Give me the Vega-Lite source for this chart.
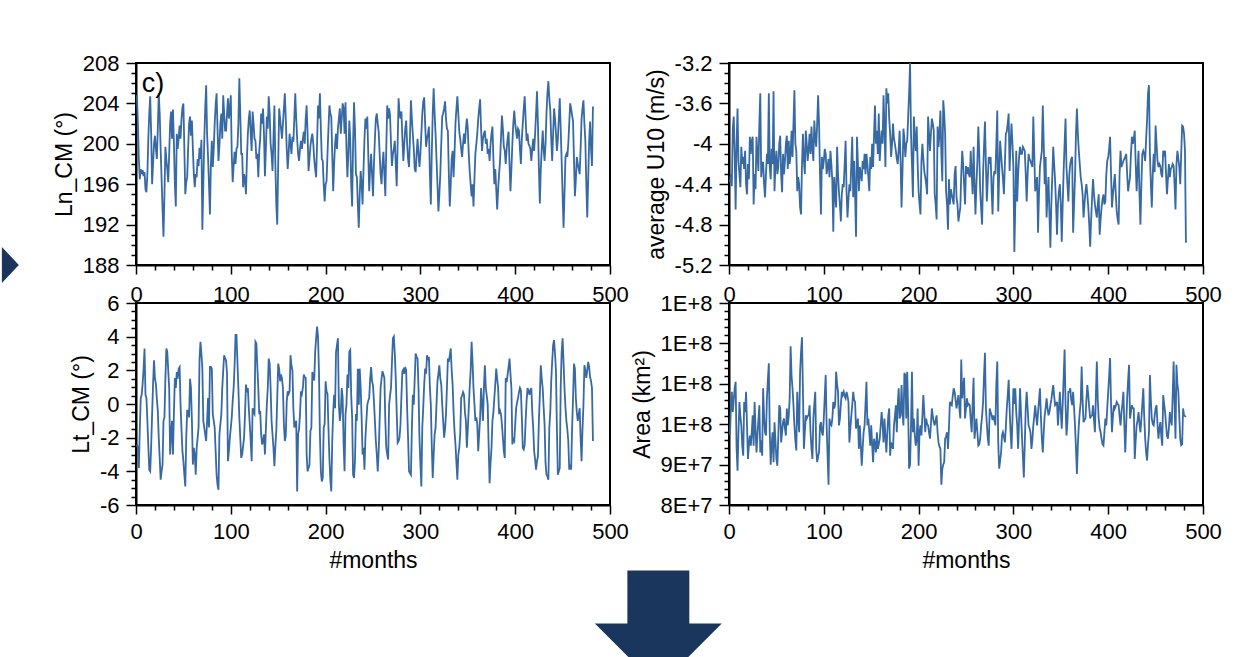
{
"$schema":"https://vega.github.io/schema/vega-lite/v6.json",
"autosize":{"type":"pad"},
"padding":{"left":0,"top":51,"right":0,"bottom":0},
"background":"white",
"config":{"font":"Liberation Sans","view":{"stroke":"black","strokeWidth":2},
"axis":{"grid":false,"domainColor":"black","domainWidth":2,"tickColor":"black","tickWidth":1.5,"labelColor":"black","titleColor":"black","labelFont":"Liberation Sans","titleFont":"Liberation Sans","labelFontSize":22,"titleFontSize":23,"titleFontWeight":"normal","labelFlush":false,"labelOverlap":false,"labelBound":false}},
"datasets":{"s":[
{"m":1,"a":204.8,"b":-4.38,"c":-2.4,"d":9.73e7},{"m":2,"a":202,"b":-4.3,"c":-2.6,"d":10.4e7},{"m":3,"a":198.5,"b":-4.42,"c":-3.8,"d":10.8e7},{"m":4,"a":196.5,"b":-3.85,"c":-1.5,"d":10.3e7},{"m":5,"a":197.5,"b":-3.73,"c":0.36,"d":10.6e7},{"m":6,"a":197,"b":-4.1,"c":0.55,"d":10.9e7},{"m":7,"a":197.4,"b":-4.65,"c":1.2,"d":11.05e7},{"m":8,"a":196.8,"b":-4.0,"c":2.1,"d":9.4e7},{"m":9,"a":197.2,"b":-3.65,"c":3.3,"d":8.85e7},{"m":10,"a":195.5,"b":-4.17,"c":0.55,"d":9.8e7},
{"m":11,"a":195.2,"b":-4.3,"c":0.36,"d":10.55e7},{"m":12,"a":197,"b":-4.43,"c":-1,"d":10.2e7},{"m":13,"a":200.5,"b":-4.03,"c":-2.5,"d":9.97e7},{"m":14,"a":203,"b":-4.2,"c":-3.9,"d":9.47e7},{"m":15,"a":204.7,"b":-4.13,"c":-4,"d":9.22e7},{"m":16,"a":201,"b":-4.25,"c":-2.5,"d":10.55e7},{"m":17,"a":196,"b":-4.07,"c":-0.6,"d":10.3e7},{"m":18,"a":198,"b":-4.4,"c":1.2,"d":10.8e7},{"m":19,"a":200,"b":-4.5,"c":2.6,"d":9.97e7},{"m":20,"a":200.8,"b":-4.2,"c":1.5,"d":9.14e7},
{"m":21,"a":199.5,"b":-4.35,"c":1.2,"d":9.5e7},{"m":22,"a":198.5,"b":-3.93,"c":0.3,"d":9.72e7},{"m":23,"a":201.5,"b":-4.1,"c":-0.4,"d":9.47e7},{"m":24,"a":205,"b":-3.97,"c":-2,"d":9.8e7},{"m":25,"a":203,"b":-3.93,"c":-3.2,"d":10.22e7},{"m":26,"a":199.5,"b":-4.6,"c":-4.5,"d":9.47e7},{"m":27,"a":196.5,"b":-4.3,"c":-4,"d":10.55e7},{"m":28,"a":193.5,"b":-4.45,"c":-3.6,"d":9.9e7},{"m":29,"a":190.8,"b":-3.93,"c":-1,"d":9.3e7},{"m":30,"a":195,"b":-4.1,"c":-0.8,"d":9.72e7},
{"m":31,"a":199.7,"b":-4.27,"c":1.5,"d":10.1e7},{"m":32,"a":198.5,"b":-3.8,"c":3.3,"d":10.47e7},{"m":33,"a":197.5,"b":-3.5,"c":3.1,"d":9.3e7},{"m":34,"a":196.2,"b":-4.33,"c":2,"d":9.6e7},{"m":35,"a":199,"b":-4.2,"c":0.95,"d":9.22e7},{"m":36,"a":202,"b":-4.18,"c":-3,"d":10.89e7},{"m":37,"a":203.2,"b":-4.4,"c":-1.8,"d":10.2e7},{"m":38,"a":200.5,"b":-4.53,"c":-1,"d":9.8e7},{"m":39,"a":203.4,"b":-4.3,"c":-3,"d":9.72e7},{"m":40,"a":200,"b":-4.1,"c":-0.5,"d":10.64e7},
{"m":41,"a":196,"b":-4.2,"c":1.55,"d":11.1e7},{"m":42,"a":193.8,"b":-3.5,"c":0.95,"d":11.51e7},{"m":43,"a":201,"b":-4.23,"c":1.9,"d":9.8e7},{"m":44,"a":199.5,"b":-4.35,"c":1.5,"d":9.0e7},{"m":45,"a":200.5,"b":-4.05,"c":2.1,"d":9.5e7},{"m":46,"a":201.8,"b":-4.2,"c":2.2,"d":9.8e7},{"m":47,"a":200.5,"b":-3.48,"c":-0.04,"d":9.06e7},{"m":48,"a":202.5,"b":-4.47,"c":-1.5,"d":10.05e7},{"m":49,"a":203.6,"b":-4.2,"c":-2.8,"d":9.6e7},{"m":50,"a":204,"b":-4.07,"c":-3.4,"d":9.14e7},
{"m":51,"a":199.5,"b":-4.3,"c":-4.2,"d":8.97e7},{"m":52,"a":195,"b":-4.23,"c":-4.9,"d":9.7e7},{"m":53,"a":196.2,"b":-4.0,"c":-2,"d":10.47e7},{"m":54,"a":196.7,"b":-3.92,"c":-0.4,"d":10.39e7},{"m":55,"a":199.5,"b":-4.3,"c":-0.4,"d":9.55e7},{"m":56,"a":202,"b":-4.48,"c":-0.8,"d":9.8e7},{"m":57,"a":202.7,"b":-4.1,"c":1.5,"d":10.05e7},{"m":58,"a":200.8,"b":-4.3,"c":0.95,"d":10.14e7},{"m":59,"a":202.3,"b":-4.17,"c":-1,"d":9.9e7},{"m":60,"a":199.5,"b":-4.0,"c":-3.6,"d":9.72e7},
{"m":61,"a":197,"b":-3.92,"c":-2.6,"d":10.39e7},{"m":62,"a":195.7,"b":-4.25,"c":-3,"d":9.97e7},{"m":63,"a":197,"b":-3.97,"c":-4.2,"d":10.2e7},{"m":64,"a":196.7,"b":-4.2,"c":-2.6,"d":10.64e7},{"m":65,"a":198.5,"b":-4.1,"c":-2,"d":11.93e7},{"m":66,"a":197.8,"b":-3.87,"c":-1.4,"d":11.2e7},{"m":67,"a":199.6,"b":-4.13,"c":2.6,"d":10.89e7},{"m":68,"a":198.5,"b":-3.8,"c":3.7,"d":10.47e7},{"m":69,"a":200.4,"b":-3.47,"c":3,"d":9.97e7},{"m":70,"a":191.5,"b":-4.0,"c":2.1,"d":9.6e7},
{"m":71,"a":196,"b":-4.07,"c":-1,"d":9.35e7},{"m":72,"a":200.3,"b":-4.47,"c":-1.4,"d":10.8e7},{"m":73,"a":203.5,"b":-4.33,"c":-1.8,"d":10.2e7},{"m":74,"a":205.8,"b":-4.4,"c":-2.2,"d":9.8e7},{"m":75,"a":201,"b":-4.63,"c":-1,"d":11.3e7},{"m":76,"a":198.7,"b":-4.7,"c":0.36,"d":11.8e7},{"m":77,"a":196,"b":-4.2,"c":-1.4,"d":12.15e7},{"m":78,"a":193,"b":-3.9,"c":2.2,"d":10.8e7},{"m":79,"a":198,"b":-4.17,"c":2.2,"d":9.39e7},{"m":80,"a":200.3,"b":-4.3,"c":2.1,"d":9.8e7},
{"m":81,"a":197.7,"b":-3.87,"c":-0.6,"d":10.22e7},{"m":82,"a":199.5,"b":-4.0,"c":-1,"d":10.14e7},{"m":83,"a":202,"b":-4.17,"c":-1.4,"d":10.2e7},{"m":84,"a":203.8,"b":-4.05,"c":-2.8,"d":10.22e7},{"m":85,"a":205,"b":-3.9,"c":-4.2,"d":10.47e7},{"m":86,"a":201.5,"b":-4.1,"c":-4.8,"d":9.8e7},{"m":87,"a":198.3,"b":-3.83,"c":-5.1,"d":9.4e7},{"m":88,"a":199.8,"b":-4.05,"c":-1.8,"d":9.14e7},{"m":89,"a":202,"b":-4.17,"c":-1.2,"d":10.14e7},{"m":90,"a":203,"b":-3.77,"c":-0.6,"d":10.5e7},
{"m":91,"a":200.5,"b":-3.95,"c":0.95,"d":10.8e7},{"m":92,"a":204.8,"b":-4.03,"c":2,"d":9.39e7},{"m":93,"a":203,"b":-3.8,"c":2.9,"d":9.06e7},{"m":94,"a":201.3,"b":-3.52,"c":2.7,"d":9.2e7},{"m":95,"a":201.3,"b":-3.8,"c":2.6,"d":9.3e7},{"m":96,"a":203,"b":-4.3,"c":1.8,"d":9.97e7},{"m":97,"a":204.5,"b":-4.7,"c":-3.4,"d":10.05e7},{"m":98,"a":202.5,"b":-4.13,"c":-2.8,"d":9.8e7},{"m":99,"a":203.5,"b":-4.25,"c":-2,"d":9.72e7},{"m":100,"a":204.8,"b":-4.17,"c":-1.4,"d":10.14e7},
{"m":101,"a":199,"b":-4.05,"c":-0.8,"d":10.7e7},{"m":102,"a":196.2,"b":-4.1,"c":0.2,"d":11.22e7},{"m":103,"a":197.8,"b":-4.3,"c":0.95,"d":9.97e7},{"m":104,"a":199.2,"b":-4.23,"c":2.3,"d":9.2e7},{"m":105,"a":198,"b":-4.15,"c":4.1,"d":8.5e7},{"m":106,"a":199.5,"b":-4.33,"c":4.1,"d":10.14e7},{"m":107,"a":199.7,"b":-4.07,"c":2.5,"d":10.0e7},{"m":108,"a":202,"b":-4.2,"c":0.95,"d":9.97e7},{"m":109,"a":206.5,"b":-4.37,"c":-0.8,"d":10.14e7},{"m":110,"a":203,"b":-4.87,"c":-2,"d":10.55e7},
{"m":111,"a":199,"b":-4.33,"c":-3.2,"d":10.39e7},{"m":112,"a":199,"b":-4.5,"c":-3,"d":10.5e7},{"m":113,"a":195.7,"b":-4.63,"c":-2.5,"d":11.3e7},{"m":114,"a":197,"b":-4.03,"c":-2,"d":11.0e7},{"m":115,"a":196.5,"b":-4.3,"c":-0.6,"d":10.8e7},{"m":116,"a":195,"b":-4.48,"c":1.15,"d":9.97e7},{"m":117,"a":198.5,"b":-4.6,"c":0.7,"d":10.14e7},{"m":118,"a":201,"b":-4.77,"c":0.95,"d":10.5e7},{"m":119,"a":202.5,"b":-4.5,"c":-0.25,"d":10.8e7},{"m":120,"a":203.3,"b":-4.4,"c":-1.2,"d":10.72e7},
{"m":121,"a":201,"b":-4.43,"c":-2.2,"d":10.8e7},{"m":122,"a":199.3,"b":-4.2,"c":-3.4,"d":10.7e7},{"m":123,"a":203.2,"b":-3.97,"c":-0.25,"d":10.64e7},{"m":124,"a":202,"b":-4.47,"c":-0.5,"d":10.8e7},{"m":125,"a":200.5,"b":-4.73,"c":-0.6,"d":10.7e7},{"m":126,"a":200.3,"b":-4.55,"c":3.7,"d":10.55e7},{"m":127,"a":198.5,"b":-4.4,"c":3.6,"d":9.55e7},{"m":128,"a":199,"b":-4.47,"c":2.2,"d":9.89e7},{"m":129,"a":196.7,"b":-4.2,"c":0.95,"d":10.2e7},{"m":130,"a":199.3,"b":-3.93,"c":-0.6,"d":10.47e7},
{"m":131,"a":200.5,"b":-4.53,"c":-0.4,"d":10.8e7},{"m":132,"a":203,"b":-4.17,"c":-1.8,"d":10.6e7},{"m":133,"a":202,"b":-4.5,"c":-2.4,"d":10.55e7},{"m":134,"a":203.5,"b":-4.92,"c":-2.2,"d":9.89e7},{"m":135,"a":201,"b":-3.93,"c":-1.8,"d":10.0e7},{"m":136,"a":196.8,"b":-4.2,"c":-3,"d":10.14e7},{"m":137,"a":199.5,"b":-4.47,"c":-1.5,"d":9.39e7},{"m":138,"a":202.7,"b":-4.23,"c":-0.04,"d":9.97e7},{"m":139,"a":201.5,"b":-4.3,"c":0.95,"d":9.5e7},{"m":140,"a":204.7,"b":-4.37,"c":2.7,"d":8.97e7},
{"m":141,"a":203,"b":-4.17,"c":2.4,"d":9.4e7},{"m":142,"a":200,"b":-4.25,"c":0.95,"d":9.8e7},{"m":143,"a":199,"b":-4.1,"c":-1,"d":9.97e7},{"m":144,"a":197.3,"b":-4.3,"c":-1.8,"d":10.5e7},{"m":145,"a":200.5,"b":-4.1,"c":-2.6,"d":11.05e7},{"m":146,"a":203.8,"b":-4.2,"c":-3.7,"d":9.97e7},{"m":147,"a":198,"b":-4.33,"c":-2.5,"d":10.14e7},{"m":148,"a":194,"b":-4.47,"c":-1.6,"d":9.8e7},{"m":149,"a":192,"b":-4.13,"c":0.36,"d":9.47e7},{"m":150,"a":198,"b":-4.25,"c":2.4,"d":9.97e7},
{"m":151,"a":203.5,"b":-4.0,"c":2.1,"d":9.5e7},{"m":152,"a":202.5,"b":-4.23,"c":1.35,"d":9.06e7},{"m":153,"a":201.5,"b":-3.9,"c":1.75,"d":9.64e7},{"m":154,"a":200.5,"b":-3.62,"c":1.5,"d":9.5e7},{"m":155,"a":202,"b":-4.0,"c":0.95,"d":9.3e7},{"m":156,"a":203.5,"b":-3.87,"c":-1.2,"d":9.8e7},{"m":157,"a":205,"b":-4.1,"c":-2.2,"d":9.39e7},{"m":158,"a":202.5,"b":-3.7,"c":-1.9,"d":9.5e7},{"m":159,"a":199.5,"b":-4.17,"c":0.16,"d":9.64e7},{"m":160,"a":197.5,"b":-4.0,"c":0.75,"d":9.97e7},
{"m":161,"a":199,"b":-3.87,"c":0.6,"d":10.3e7},{"m":162,"a":201,"b":-4.0,"c":0.75,"d":10.0e7},{"m":163,"a":200,"b":-3.52,"c":2.9,"d":9.55e7},{"m":164,"a":199,"b":-3.85,"c":2.3,"d":10.14e7},{"m":165,"a":200.7,"b":-4.23,"c":2.0,"d":9.7e7},{"m":166,"a":200.2,"b":-3.45,"c":-0.25,"d":9.3e7},{"m":167,"a":202.5,"b":-3.6,"c":-1.4,"d":9.8e7},{"m":168,"a":205,"b":-3.5,"c":-1.2,"d":10.2e7},{"m":169,"a":202.5,"b":-3.75,"c":-1,"d":10.39e7},{"m":170,"a":200.5,"b":-3.9,"c":-5.2,"d":9.22e7},
{"m":171,"a":199,"b":-4.13,"c":-1.8,"d":9.55e7},{"m":172,"a":198.3,"b":-4.0,"c":-1.5,"d":9.47e7},{"m":173,"a":199.5,"b":-3.8,"c":-0.6,"d":9.39e7},{"m":174,"a":200.3,"b":-3.95,"c":0.75,"d":9.97e7},{"m":175,"a":199.5,"b":-4.0,"c":0.6,"d":10.2e7},{"m":176,"a":200.5,"b":-4.07,"c":0.95,"d":10.47e7},{"m":177,"a":201.2,"b":-4.15,"c":1.75,"d":9.8e7},{"m":178,"a":200,"b":-4.2,"c":1.6,"d":10.5e7},{"m":179,"a":202.5,"b":-4.05,"c":1.55,"d":10.89e7},{"m":180,"a":203.8,"b":-3.87,"c":-3,"d":10.14e7},
{"m":181,"a":201,"b":-4.17,"c":-4,"d":10.22e7},{"m":182,"a":197.3,"b":-4.63,"c":-3.8,"d":10.97e7},{"m":183,"a":198.5,"b":-4.28,"c":-3.6,"d":10.3e7},{"m":184,"a":199.8,"b":-3.85,"c":-1.6,"d":9.97e7},{"m":185,"a":200.5,"b":-3.95,"c":-1.4,"d":11.27e7},{"m":186,"a":201,"b":-4.13,"c":1.9,"d":11.22e7},{"m":187,"a":200,"b":-4.0,"c":1.55,"d":10.14e7},{"m":188,"a":198.5,"b":-3.97,"c":1.4,"d":11.3e7},{"m":189,"a":197.5,"b":-3.73,"c":3.1,"d":10.3e7},{"m":190,"a":196.7,"b":-3.5,"c":3.9,"d":8.9e7},
{"m":191,"a":200,"b":-3.2,"c":4.6,"d":9.0e7},{"m":192,"a":203.8,"b":-3.9,"c":4.0,"d":9.97e7},{"m":193,"a":202.5,"b":-4.2,"c":1.95,"d":11.3e7},{"m":194,"a":205,"b":-4.53,"c":-1.8,"d":9.8e7},{"m":195,"a":201.5,"b":-3.73,"c":-4,"d":10.14e7},{"m":196,"a":198.5,"b":-3.95,"c":-4.6,"d":9.72e7},{"m":197,"a":198.3,"b":-4.07,"c":-4.4,"d":9.47e7},{"m":198,"a":196,"b":-3.83,"c":-1.4,"d":9.64e7},{"m":199,"a":194.3,"b":-4.2,"c":-1.2,"d":10.39e7},{"m":200,"a":196,"b":-4.47,"c":1.35,"d":8.97e7},
{"m":201,"a":196.3,"b":-4.6,"c":0.75,"d":9.8e7},{"m":202,"a":199,"b":-4.7,"c":0.6,"d":9.97e7},{"m":203,"a":201.5,"b":-4.17,"c":-1.4,"d":9.72e7},{"m":204,"a":203.8,"b":-4.0,"c":-3.2,"d":10.2e7},{"m":205,"a":203,"b":-4.15,"c":-4.5,"d":10.72e7},{"m":206,"a":202.7,"b":-4.27,"c":-5.2,"d":10.3e7},{"m":207,"a":199,"b":-4.33,"c":-2.2,"d":9.8e7},{"m":208,"a":195.3,"b":-4.4,"c":-0.5,"d":10.14e7},{"m":209,"a":198,"b":-4.5,"c":0.55,"d":10.0e7},{"m":210,"a":200,"b":-3.73,"c":-0.25,"d":9.97e7},
{"m":211,"a":201,"b":-3.9,"c":3.1,"d":9.8e7},{"m":212,"a":199.5,"b":-4.07,"c":3.5,"d":9.64e7},{"m":213,"a":201.5,"b":-3.9,"c":3.9,"d":10.0e7},{"m":214,"a":202.5,"b":-3.75,"c":-0.04,"d":10.39e7},{"m":215,"a":203.5,"b":-3.8,"c":-1,"d":10.2e7},{"m":216,"a":201,"b":-3.87,"c":-0.5,"d":10.05e7},{"m":217,"a":202.5,"b":-4.5,"c":0.95,"d":9.97e7},{"m":218,"a":204,"b":-4.6,"c":0.36,"d":10.1e7},{"m":219,"a":203.5,"b":-4.75,"c":-2.4,"d":10.22e7},{"m":220,"a":201,"b":-3.83,"c":-4,"d":9.8e7},
{"m":221,"a":204.1,"b":-4.03,"c":-0.6,"d":9.55e7},{"m":222,"a":199.5,"b":-3.9,"c":-0.04,"d":9.45e7},{"m":223,"a":196.7,"b":-3.67,"c":1.75,"d":9.39e7},{"m":224,"a":199,"b":-4.1,"c":0.95,"d":8.5e7},{"m":225,"a":202.3,"b":-4.37,"c":3.1,"d":8.89e7},{"m":226,"a":200.5,"b":-3.57,"c":3.2,"d":9.0e7},{"m":227,"a":196,"b":-3.7,"c":0.5,"d":9.06e7},{"m":228,"a":193.8,"b":-3.9,"c":-0.8,"d":9.64e7},{"m":229,"a":200,"b":-4.47,"c":-4.2,"d":9.7e7},{"m":230,"a":204.1,"b":-4.6,"c":-4.4,"d":9.8e7},
{"m":231,"a":201.5,"b":-4.85,"c":-3.4,"d":9.39e7},{"m":232,"a":197,"b":-4.35,"c":-0.6,"d":9.9e7},{"m":233,"a":196.7,"b":-4.6,"c":-1,"d":10.55e7},{"m":234,"a":194,"b":-4.45,"c":2.1,"d":10.5e7},{"m":235,"a":191.7,"b":-4.5,"c":-0.04,"d":10.47e7},{"m":236,"a":195,"b":-4.55,"c":2.1,"d":10.7e7},{"m":237,"a":197.3,"b":-4.6,"c":0.95,"d":10.89e7},{"m":238,"a":196,"b":-4.3,"c":-0.8,"d":10.8e7},{"m":239,"a":194,"b":-4.22,"c":-3,"d":10.6e7},{"m":240,"a":197.5,"b":-4.53,"c":-2.6,"d":10.39e7},
{"m":241,"a":200.5,"b":-4.6,"c":-3.9,"d":10.55e7},{"m":242,"a":202.5,"b":-4.77,"c":-2,"d":10.72e7},{"m":243,"a":201.5,"b":-4.7,"c":-1,"d":10.4e7},{"m":244,"a":202.7,"b":-4.63,"c":-0.04,"d":10.14e7},{"m":245,"a":199,"b":-4.3,"c":0.2,"d":11.6e7},{"m":246,"a":195.3,"b":-4.07,"c":0.36,"d":10.64e7},{"m":247,"a":197.5,"b":-4.2,"c":1.5,"d":10.9e7},{"m":248,"a":199,"b":-4.4,"c":2.2,"d":11.15e7},{"m":249,"a":197,"b":-4.6,"c":1.35,"d":10.14e7},{"m":250,"a":194.8,"b":-4.22,"c":1.1,"d":10.4e7},
{"m":251,"a":198,"b":-4.3,"c":0.16,"d":10.64e7},{"m":252,"a":200.5,"b":-4.23,"c":-1,"d":10.47e7},{"m":253,"a":202.5,"b":-4.3,"c":-2.2,"d":10.5e7},{"m":254,"a":203,"b":-4.33,"c":-3,"d":10.47e7},{"m":255,"a":202,"b":-4.07,"c":-4,"d":10.1e7},{"m":256,"a":201.2,"b":-4.3,"c":-2.8,"d":9.8e7},{"m":257,"a":199,"b":-4.5,"c":-1,"d":10.5e7},{"m":258,"a":197,"b":-4.03,"c":0.95,"d":11.15e7},{"m":259,"a":196,"b":-4.4,"c":1.5,"d":9.64e7},{"m":260,"a":198,"b":-4.7,"c":1.95,"d":9.9e7},
{"m":261,"a":199.2,"b":-4.4,"c":1.75,"d":10.14e7},{"m":262,"a":197,"b":-4.17,"c":1.55,"d":9.8e7},{"m":263,"a":194.8,"b":-3.83,"c":-1,"d":9.47e7},{"m":264,"a":199.5,"b":-4.1,"c":-2.6,"d":9.5e7},{"m":265,"a":203.8,"b":-4.47,"c":-3,"d":9.64e7},{"m":266,"a":202.5,"b":-4.65,"c":-3.3,"d":9.97e7},{"m":267,"a":203.5,"b":-4.8,"c":-0.04,"d":10.2e7},{"m":268,"a":202.8,"b":-4.3,"c":0.5,"d":10.55e7},{"m":269,"a":200,"b":-4.03,"c":0.95,"d":11.2e7},{"m":270,"a":197.8,"b":-3.78,"c":2.5,"d":11.77e7},
{"m":271,"a":199,"b":-4.2,"c":3.9,"d":10.39e7},{"m":272,"a":199.5,"b":-4.57,"c":4,"d":10.0e7},{"m":273,"a":200.3,"b":-4.35,"c":3.0,"d":9.64e7},{"m":274,"a":198,"b":-4.13,"c":1.55,"d":9.47e7},{"m":275,"a":195.8,"b":-4.2,"c":-0.5,"d":10.39e7},{"m":276,"a":200,"b":-4.13,"c":-2.3,"d":10.3e7},{"m":277,"a":204.5,"b":-4.45,"c":-2.2,"d":10.22e7},{"m":278,"a":203,"b":-4.7,"c":-2,"d":10.1e7},{"m":279,"a":202.5,"b":-4.33,"c":-1.2,"d":10.22e7},{"m":280,"a":203.2,"b":-4.27,"c":0.5,"d":10.1e7},
{"m":281,"a":200.5,"b":-4.3,"c":1.95,"d":9.97e7},{"m":282,"a":198.3,"b":-4.0,"c":2.05,"d":11.0e7},{"m":283,"a":200,"b":-3.67,"c":1.8,"d":11.55e7},{"m":284,"a":201.5,"b":-4.67,"c":2.2,"d":9.55e7},{"m":285,"a":202.3,"b":-4.3,"c":2.0,"d":8.9e7},{"m":286,"a":200,"b":-3.97,"c":-0.25,"d":9.1e7},{"m":287,"a":198.5,"b":-4.1,"c":-2,"d":9.3e7},{"m":288,"a":197.7,"b":-4.23,"c":-4,"d":9.72e7},{"m":289,"a":200.5,"b":-4.35,"c":-4.1,"d":9.8e7},{"m":290,"a":204.3,"b":-4.5,"c":-4.2,"d":9.7e7},
{"m":291,"a":202.5,"b":-4.2,"c":-1.5,"d":9.55e7},{"m":292,"a":201,"b":-3.9,"c":0.55,"d":9.9e7},{"m":293,"a":199.5,"b":-3.88,"c":-0.04,"d":10.39e7},{"m":294,"a":197.5,"b":-3.8,"c":1.5,"d":10.7e7},{"m":295,"a":197.2,"b":-3.7,"c":3,"d":11.1e7},{"m":296,"a":199,"b":-4.27,"c":2.8,"d":10.4e7},{"m":297,"a":200.5,"b":-4.0,"c":2.7,"d":9.8e7},{"m":298,"a":199,"b":-3.8,"c":0.95,"d":9.39e7},{"m":299,"a":197.7,"b":-4.0,"c":-2,"d":10.1e7},{"m":300,"a":199,"b":-4.23,"c":-3.5,"d":10.89e7},
{"m":301,"a":201,"b":-5.07,"c":-4.9,"d":10.5e7},{"m":302,"a":203,"b":-4.6,"c":-1.4,"d":10.89e7},{"m":303,"a":204.2,"b":-4.07,"c":-0.2,"d":10.3e7},{"m":304,"a":204.6,"b":-4.57,"c":1.15,"d":9.97e7},{"m":305,"a":202,"b":-4.3,"c":2.1,"d":9.39e7},{"m":306,"a":199.7,"b":-4.13,"c":1.8,"d":10.1e7},{"m":307,"a":200.5,"b":-4.03,"c":2.9,"d":10.89e7},{"m":308,"a":201,"b":-4.1,"c":2.6,"d":10.3e7},{"m":309,"a":201.7,"b":-4.1,"c":2.8,"d":9.72e7},{"m":310,"a":197,"b":-4.03,"c":1,"d":9.2e7},
{"m":311,"a":194,"b":-4.05,"c":-0.04,"d":8.68e7},{"m":312,"a":199,"b":-4.07,"c":-2.5,"d":9.5e7},{"m":313,"a":203,"b":-4.3,"c":-4.4,"d":10.39e7},{"m":314,"a":205.5,"b":-4.57,"c":-3,"d":10.8e7},{"m":315,"a":203,"b":-4.3,"c":-1.8,"d":10.4e7},{"m":316,"a":201,"b":-4.1,"c":-1.4,"d":9.97e7},{"m":317,"a":198.5,"b":-4.15,"c":0,"d":9.9e7},{"m":318,"a":196,"b":-4.17,"c":1.35,"d":9.8e7},{"m":319,"a":193.3,"b":-4.2,"c":1.8,"d":9.39e7},{"m":320,"a":195,"b":-4.23,"c":2.3,"d":9.6e7},
{"m":321,"a":197,"b":-3.73,"c":1.5,"d":9.97e7},{"m":322,"a":200,"b":-4.1,"c":1.15,"d":10.2e7},{"m":323,"a":202.7,"b":-4.47,"c":0,"d":10.47e7},{"m":324,"a":203,"b":-4.4,"c":-1,"d":10.2e7},{"m":325,"a":203.5,"b":-4.33,"c":-2,"d":9.97e7},{"m":326,"a":204.2,"b":-4.88,"c":-1.5,"d":10.3e7},{"m":327,"a":202.5,"b":-4.5,"c":-0.6,"d":10.6e7},{"m":328,"a":201.5,"b":-4.23,"c":1,"d":10.89e7},{"m":329,"a":201.3,"b":-4.15,"c":2.7,"d":10.2e7},{"m":330,"a":197,"b":-4.07,"c":2.5,"d":9.64e7},
{"m":331,"a":193.8,"b":-3.62,"c":2.9,"d":9.3e7},{"m":332,"a":196,"b":-4.0,"c":3.3,"d":9.8e7},{"m":333,"a":198.5,"b":-4.4,"c":2,"d":10.22e7},{"m":334,"a":199.3,"b":-4.13,"c":1.15,"d":10.4e7},{"m":335,"a":196.7,"b":-4.73,"c":-0.5,"d":10.64e7},{"m":336,"a":199,"b":-4.5,"c":-1.6,"d":10.4e7},{"m":337,"a":202,"b":-4.33,"c":-2.4,"d":10.22e7},{"m":338,"a":203.5,"b":-4.7,"c":-3.5,"d":10.3e7},{"m":339,"a":204.7,"b":-5.03,"c":-4.5,"d":10.47e7},{"m":340,"a":203,"b":-4.6,"c":-3,"d":10.6e7},
{"m":341,"a":201.2,"b":-4.33,"c":-2.6,"d":10.8e7},{"m":342,"a":200.5,"b":-4.03,"c":-1.8,"d":10.97e7},{"m":343,"a":199.5,"b":-4.2,"c":0.36,"d":10.7e7},{"m":344,"a":198.7,"b":-4.37,"c":0.5,"d":10.47e7},{"m":345,"a":200,"b":-4.6,"c":0.7,"d":10.5e7},{"m":346,"a":201,"b":-4.9,"c":0.55,"d":10.55e7},{"m":347,"a":200,"b":-4.6,"c":-0.5,"d":9.97e7},{"m":348,"a":201.5,"b":-4.47,"c":-1,"d":10.4e7},{"m":349,"a":202.5,"b":-4.4,"c":-2.6,"d":10.8e7},{"m":350,"a":201.5,"b":-4.6,"c":-1.5,"d":10.3e7},
{"m":351,"a":199,"b":-4.97,"c":-0.25,"d":9.89e7},{"m":352,"a":197.3,"b":-4.6,"c":1,"d":10.5e7},{"m":353,"a":196,"b":-4.27,"c":1.95,"d":11.15e7},{"m":354,"a":194.8,"b":-4.0,"c":3.7,"d":11.85e7},{"m":355,"a":196,"b":-3.75,"c":2.5,"d":10.5e7},{"m":356,"a":193.8,"b":-4.23,"c":0.95,"d":9.72e7},{"m":357,"a":196.5,"b":-4.4,"c":0,"d":10.05e7},{"m":358,"a":199,"b":-4.57,"c":-1,"d":10.8e7},{"m":359,"a":200,"b":-4.3,"c":-0.8,"d":10.8e7},{"m":360,"a":201,"b":-4.2,"c":-1.2,"d":10.89e7},
{"m":361,"a":202.5,"b":-4.15,"c":-2.8,"d":10.6e7},{"m":362,"a":203.5,"b":-4.13,"c":-1.8,"d":10.47e7},{"m":363,"a":204.4,"b":-4.88,"c":-0.8,"d":10.8e7},{"m":364,"a":201.5,"b":-4.6,"c":0.95,"d":10.4e7},{"m":365,"a":199.3,"b":-4.33,"c":0,"d":9.97e7},{"m":366,"a":200.5,"b":-3.9,"c":-1,"d":9.4e7},{"m":367,"a":201,"b":-3.65,"c":1,"d":8.77e7},{"m":368,"a":201.3,"b":-3.9,"c":2.3,"d":9.5e7},{"m":369,"a":200,"b":-4.07,"c":0.95,"d":9.97e7},{"m":370,"a":200.5,"b":-4.2,"c":0.5,"d":10.3e7},
{"m":371,"a":199,"b":-4.33,"c":-0.04,"d":10.55e7},{"m":372,"a":199.5,"b":-4.4,"c":-2.5,"d":11.43e7},{"m":373,"a":198.3,"b":-4.5,"c":-4.7,"d":10.6e7},{"m":374,"a":200,"b":-4.73,"c":-3.5,"d":10.05e7},{"m":375,"a":201,"b":-4.6,"c":-2.6,"d":10.1e7},{"m":376,"a":201.7,"b":-4.47,"c":-1,"d":10.14e7},{"m":377,"a":198.5,"b":-4.4,"c":-0.5,"d":10.6e7},{"m":378,"a":196,"b":-4.5,"c":0.36,"d":10.97e7},{"m":379,"a":197.5,"b":-4.63,"c":1.2,"d":10.72e7},{"m":380,"a":195.5,"b":-4.8,"c":2.1,"d":10.4e7},
{"m":381,"a":193.5,"b":-5.02,"c":1.5,"d":10.14e7},{"m":382,"a":195.5,"b":-4.75,"c":0.95,"d":10.2e7},{"m":383,"a":197,"b":-4.53,"c":-0.6,"d":10.22e7},{"m":384,"a":198.3,"b":-4.35,"c":-0.4,"d":10.47e7},{"m":385,"a":200.5,"b":-4.5,"c":-0.6,"d":10.1e7},{"m":386,"a":202.8,"b":-4.6,"c":-1.2,"d":9.8e7},{"m":387,"a":201.5,"b":-4.67,"c":-2,"d":10.7e7},{"m":388,"a":199.7,"b":-4.73,"c":-2.8,"d":11.55e7},{"m":389,"a":199.3,"b":-4.6,"c":-3.2,"d":10.6e7},{"m":390,"a":198,"b":-4.5,"c":1.55,"d":10.14e7},
{"m":391,"a":199.5,"b":-4.9,"c":1.3,"d":9.9e7},{"m":392,"a":200.5,"b":-4.75,"c":1.75,"d":9.8e7},{"m":393,"a":201.2,"b":-4.63,"c":2.2,"d":9.64e7},{"m":394,"a":198,"b":-4.55,"c":2.7,"d":9.5e7},{"m":395,"a":195.3,"b":-4.5,"c":1.8,"d":9.47e7},{"m":396,"a":197.5,"b":-4.6,"c":0.95,"d":9.8e7},{"m":397,"a":200,"b":-4.57,"c":-2.4,"d":10.14e7},{"m":398,"a":202,"b":-4.3,"c":-2.1,"d":9.97e7},{"m":399,"a":203.3,"b":-4.17,"c":-2.2,"d":10.4e7},{"m":400,"a":202,"b":-4.13,"c":-1.2,"d":10.8e7},
{"m":401,"a":201.2,"b":-4.05,"c":-0.25,"d":11.2e7},{"m":402,"a":200.5,"b":-3.93,"c":0.1,"d":11.64e7},{"m":403,"a":201.5,"b":-4.3,"c":0.36,"d":10.5e7},{"m":404,"a":201.3,"b":-4.63,"c":0.7,"d":9.8e7},{"m":405,"a":199.5,"b":-4.5,"c":0.95,"d":10.2e7},{"m":406,"a":198,"b":-4.4,"c":0.8,"d":10.47e7},{"m":407,"a":200.5,"b":-4.3,"c":-0.8,"d":10.39e7},{"m":408,"a":202,"b":-4.5,"c":-2.6,"d":10.45e7},{"m":409,"a":203.5,"b":-4.67,"c":-2.7,"d":10.55e7},{"m":410,"a":204.7,"b":-4.75,"c":-2.4,"d":10.5e7},
{"m":411,"a":202.5,"b":-4.8,"c":-1,"d":10.47e7},{"m":412,"a":200.3,"b":-4.3,"c":0.16,"d":10.2e7},{"m":413,"a":201,"b":-4.07,"c":0.95,"d":9.97e7},{"m":414,"a":200,"b":-4.23,"c":0.8,"d":10.3e7},{"m":415,"a":199.8,"b":-4.2,"c":0.55,"d":10.5e7},{"m":416,"a":199.5,"b":-4.17,"c":0.8,"d":10.8e7},{"m":417,"a":198.3,"b":-4.15,"c":0.95,"d":10.0e7},{"m":418,"a":199.5,"b":-4.13,"c":-0.5,"d":9.3e7},{"m":419,"a":200.5,"b":-4.1,"c":-1.4,"d":10.0e7},{"m":420,"a":199.3,"b":-4.3,"c":-2.8,"d":10.64e7},
{"m":421,"a":201,"b":-4.47,"c":-3.3,"d":11.1e7},{"m":422,"a":203,"b":-4.4,"c":-3.9,"d":11.47e7},{"m":423,"a":205.2,"b":-4.33,"c":-3.4,"d":10.14e7},{"m":424,"a":202,"b":-4.1,"c":-3.1,"d":10.3e7},{"m":425,"a":197.5,"b":-3.93,"c":-1,"d":10.47e7},{"m":426,"a":194.1,"b":-4.0,"c":0.55,"d":10.4e7},{"m":427,"a":197.5,"b":-3.95,"c":2.3,"d":10.39e7},{"m":428,"a":199.5,"b":-3.87,"c":1.5,"d":9.14e7},{"m":429,"a":201.3,"b":-4.2,"c":0.95,"d":9.6e7},{"m":430,"a":199.5,"b":-4.47,"c":-0.2,"d":9.97e7},
{"m":431,"a":198.3,"b":-4.25,"c":-1.2,"d":10.1e7},{"m":432,"a":200,"b":-4.07,"c":-3.5,"d":10.3e7},{"m":433,"a":203,"b":-4.5,"c":-4.2,"d":10.0e7},{"m":434,"a":205,"b":-4.8,"c":-4.3,"d":9.8e7},{"m":435,"a":206.2,"b":-4.4,"c":-4.5,"d":10.14e7},{"m":436,"a":204.5,"b":-4.1,"c":-1.4,"d":10.5e7},{"m":437,"a":203.3,"b":-4.07,"c":-0.5,"d":10.89e7},{"m":438,"a":200.5,"b":-4.1,"c":1.35,"d":10.2e7},{"m":439,"a":198.3,"b":-4.17,"c":2.5,"d":9.64e7},{"m":440,"a":201,"b":-3.95,"c":3.5,"d":9.3e7},
{"m":441,"a":203.5,"b":-3.77,"c":3.8,"d":9.1e7},{"m":442,"a":202.5,"b":-3.5,"c":3.0,"d":9.5e7},{"m":443,"a":201,"b":-3.42,"c":1.95,"d":9.8e7},{"m":444,"a":199.3,"b":-4.1,"c":-1.5,"d":11.22e7},{"m":445,"a":200.5,"b":-4.4,"c":-4.2,"d":10.6e7},{"m":446,"a":202.5,"b":-4.63,"c":-4,"d":10.14e7},{"m":447,"a":204.5,"b":-4.3,"c":-3.8,"d":10.0e7},{"m":448,"a":201.5,"b":-4.1,"c":1,"d":9.97e7},{"m":449,"a":198.3,"b":-4.28,"c":3.1,"d":10.2e7},{"m":450,"a":195,"b":-3.82,"c":3.9,"d":10.39e7},
{"m":451,"a":191.7,"b":-4.0,"c":2.5,"d":10.47e7},{"m":452,"a":195,"b":-4.17,"c":0.95,"d":10.0e7},{"m":453,"a":198.7,"b":-4.23,"c":-0.2,"d":9.64e7},{"m":454,"a":199,"b":-4.2,"c":-1,"d":9.9e7},{"m":455,"a":198.7,"b":-4.22,"c":-1.5,"d":10.05e7},{"m":456,"a":200,"b":-4.3,"c":-2.2,"d":9.7e7},{"m":457,"a":202,"b":-4.33,"c":-3.9,"d":9.47e7},{"m":458,"a":204,"b":-4.07,"c":-3.6,"d":10.72e7},{"m":459,"a":203.5,"b":-4.1,"c":-3.9,"d":10.5e7},{"m":460,"a":202.8,"b":-4.07,"c":-1.5,"d":10.3e7},
{"m":461,"a":202.3,"b":-4.3,"c":0.36,"d":10.0e7},{"m":462,"a":198.5,"b":-4.5,"c":2.4,"d":9.72e7},{"m":463,"a":194.8,"b":-4.35,"c":2.1,"d":9.64e7},{"m":464,"a":196.5,"b":-4.2,"c":0.36,"d":9.9e7},{"m":465,"a":198.7,"b":-4.33,"c":-0.5,"d":10.3e7},{"m":466,"a":198,"b":-4.25,"c":-1,"d":10.1e7},{"m":467,"a":197.5,"b":-4.23,"c":-0.6,"d":9.97e7},{"m":468,"a":197,"b":-4.2,"c":-0.25,"d":10.7e7},{"m":469,"a":199.5,"b":-4.22,"c":-2,"d":11.55e7},{"m":470,"a":202.5,"b":-4.4,"c":-3.4,"d":10.5e7},
{"m":471,"a":203.5,"b":-4.65,"c":-1.5,"d":9.64e7},{"m":472,"a":204.3,"b":-4.2,"c":-0.04,"d":11.47e7},{"m":473,"a":202,"b":-4.07,"c":2.3,"d":11.0e7},{"m":474,"a":200.3,"b":-4.15,"c":2,"d":10.8e7},{"m":475,"a":196,"b":-4.23,"c":1.55,"d":10.2e7},{"m":476,"a":192.7,"b":-4.4,"c":2,"d":9.64e7},{"m":477,"a":196.5,"b":-4.1,"c":2.5,"d":9.48e7},{"m":478,"a":200.3,"b":-3.82,"c":2.2,"d":9.5e7},{"m":479,"a":202.2,"b":-3.83,"c":1.6,"d":10.39e7},{"m":480,"a":199.5,"b":-3.9,"c":1.35,"d":10.22e7},
{"m":481,"a":197.8,"b":-4.07,"c":0.95,"d":10.2e7},{"m":482,"a":203.7,"b":-4.98,"c":-2.2,"d":10.18e7}
]},
"data":{"name":"s"},
"columns":2,
"bounds":"flush",
"spacing":{"row":38,"column":119},
"concat":[
{"width":474,"height":202,"layer":[
 {"mark":{"type":"line","color":"#3769a3","strokeWidth":1.8},
  "encoding":{
   "x":{"field":"m","type":"quantitative","scale":{"domain":[0,500],"nice":false},
        "axis":{"values":[0,20,40,60,80,100,120,140,160,180,200,220,240,260,280,300,320,340,360,380,400,420,440,460,480,500],"labelExpr":"datum.value % 100 == 0 ? datum.value + '' : ''","tickSize":{"condition":{"test":"datum.value % 100 == 0","value":9},"value":5},"labelPadding":10,"title":null}},
   "y":{"field":"a","type":"quantitative","scale":{"domain":[188,208],"nice":false,"zero":false},
        "axis":{"values":[188,189,190,191,192,193,194,195,196,197,198,199,200,201,202,203,204,205,206,207,208],"labelExpr":"datum.value % 4 == 0 ? datum.value + '' : ''","tickSize":{"condition":{"test":"datum.value % 4 == 0","value":10},"value":5},"labelPadding":7,"titlePadding":6,"title":"Ln_CM (°)"}}}},
 {"data":{"values":[{"t":"c)"}]},"mark":{"type":"text","align":"left","baseline":"alphabetic","fontSize":27,"font":"Liberation Sans","color":"black"},
  "encoding":{
   "x":{"datum":6,"axis":{"values":[0,20,40,60,80,100,120,140,160,180,200,220,240,260,280,300,320,340,360,380,400,420,440,460,480,500],"labelExpr":"datum.value % 100 == 0 ? datum.value + '' : ''","tickSize":{"condition":{"test":"datum.value % 100 == 0","value":9},"value":5},"labelPadding":10,"title":null}},
   "y":{"datum":205.1,"axis":{"values":[188,189,190,191,192,193,194,195,196,197,198,199,200,201,202,203,204,205,206,207,208],"labelExpr":"datum.value % 4 == 0 ? datum.value + '' : ''","tickSize":{"condition":{"test":"datum.value % 4 == 0","value":10},"value":5},"labelPadding":7,"titlePadding":6,"title":"Ln_CM (°)"}},
   "text":{"field":"t"}}},
 {"data":{"values":[{"k":1}]},"mark":{"type":"point","shape":"M-0.5,-1L0.444,0L-0.5,1Z","size":1296,"filled":true,"color":"#1b365d","opacity":1,"strokeWidth":0,"clip":false},
  "encoding":{
   "x":{"datum":-132,"axis":{"values":[0,20,40,60,80,100,120,140,160,180,200,220,240,260,280,300,320,340,360,380,400,420,440,460,480,500],"labelExpr":"datum.value % 100 == 0 ? datum.value + '' : ''","tickSize":{"condition":{"test":"datum.value % 100 == 0","value":9},"value":5},"labelPadding":10,"title":null}},
   "y":{"datum":188,"axis":{"values":[188,189,190,191,192,193,194,195,196,197,198,199,200,201,202,203,204,205,206,207,208],"labelExpr":"datum.value % 4 == 0 ? datum.value + '' : ''","tickSize":{"condition":{"test":"datum.value % 4 == 0","value":10},"value":5},"labelPadding":7,"titlePadding":6,"title":"Ln_CM (°)"}}}}
]},
{"width":474,"height":202,"layer":[
 {"mark":{"type":"line","color":"#3769a3","strokeWidth":1.8},
  "encoding":{
   "x":{"field":"m","type":"quantitative","scale":{"domain":[0,500],"nice":false},
        "axis":{"values":[0,20,40,60,80,100,120,140,160,180,200,220,240,260,280,300,320,340,360,380,400,420,440,460,480,500],"labelExpr":"datum.value % 100 == 0 ? datum.value + '' : ''","tickSize":{"condition":{"test":"datum.value % 100 == 0","value":9},"value":5},"labelPadding":10,"title":null}},
   "y":{"field":"b","type":"quantitative","scale":{"domain":[-5.2,-3.2],"nice":false,"zero":false},
        "axis":{"values":[-5.2,-5.1,-5,-4.9,-4.8,-4.7,-4.6,-4.5,-4.4,-4.3,-4.2,-4.1,-4,-3.9,-3.8,-3.7,-3.6,-3.5,-3.4,-3.3,-3.2],"labelExpr":"abs(round(datum.value*10)) % 4 == 0 ? datum.value + '' : ''","tickSize":{"condition":{"test":"abs(round(datum.value*10)) % 4 == 0","value":10},"value":5},"labelPadding":7,"titlePadding":6,"title":"average U10 (m/s)"}}}}
]},
{"width":474,"height":202,"layer":[
 {"mark":{"type":"line","color":"#3769a3","strokeWidth":1.8},
  "encoding":{
   "x":{"field":"m","type":"quantitative","scale":{"domain":[0,500],"nice":false},
        "axis":{"values":[0,20,40,60,80,100,120,140,160,180,200,220,240,260,280,300,320,340,360,380,400,420,440,460,480,500],"labelExpr":"datum.value % 100 == 0 ? datum.value + '' : ''","tickSize":{"condition":{"test":"datum.value % 100 == 0","value":9},"value":5},"labelPadding":7,"titlePadding":7,"title":"#months"}},
   "y":{"field":"c","type":"quantitative","scale":{"domain":[-6,6],"nice":false,"zero":false},
        "axis":{"values":[-6,-5.5,-5,-4.5,-4,-3.5,-3,-2.5,-2,-1.5,-1,-0.5,0,0.5,1,1.5,2,2.5,3,3.5,4,4.5,5,5.5,6],"labelExpr":"datum.value % 2 == 0 ? datum.value + '' : ''","tickSize":{"condition":{"test":"datum.value % 2 == 0","value":10},"value":5},"labelPadding":7,"titlePadding":6,"title":"Lt_CM (°)"}}}},
 {"data":{"values":[{"k":1}]},"mark":{"type":"point","shape":"M-0.484,-1L0.484,-1L0.484,-0.172L0.992,-0.172L0,0.82L-0.992,-0.172L-0.484,-0.172Z","size":16384,"filled":true,"color":"#1b365d","opacity":1,"strokeWidth":0,"clip":false},
  "encoding":{
   "x":{"datum":551,"axis":{"values":[0,20,40,60,80,100,120,140,160,180,200,220,240,260,280,300,320,340,360,380,400,420,440,460,480,500],"labelExpr":"datum.value % 100 == 0 ? datum.value + '' : ''","tickSize":{"condition":{"test":"datum.value % 100 == 0","value":9},"value":5},"labelPadding":7,"titlePadding":7,"title":"#months"}},
   "y":{"datum":-13.7,"axis":{"values":[-6,-5.5,-5,-4.5,-4,-3.5,-3,-2.5,-2,-1.5,-1,-0.5,0,0.5,1,1.5,2,2.5,3,3.5,4,4.5,5,5.5,6],"labelExpr":"datum.value % 2 == 0 ? datum.value + '' : ''","tickSize":{"condition":{"test":"datum.value % 2 == 0","value":10},"value":5},"labelPadding":7,"titlePadding":6,"title":"Lt_CM (°)"}}}}
]},
{"width":474,"height":202,"layer":[
 {"mark":{"type":"line","color":"#3769a3","strokeWidth":1.8},
  "encoding":{
   "x":{"field":"m","type":"quantitative","scale":{"domain":[0,500],"nice":false},
        "axis":{"values":[0,20,40,60,80,100,120,140,160,180,200,220,240,260,280,300,320,340,360,380,400,420,440,460,480,500],"labelExpr":"datum.value % 100 == 0 ? datum.value + '' : ''","tickSize":{"condition":{"test":"datum.value % 100 == 0","value":9},"value":5},"labelPadding":7,"titlePadding":7,"title":"#months"}},
   "y":{"field":"d","type":"quantitative","scale":{"domain":[80000000,130000000],"nice":false,"zero":false},
        "axis":{"values":[80000000,82000000,84000000,86000000,88000000,90000000,92000000,94000000,96000000,98000000,100000000,102000000,104000000,106000000,108000000,110000000,112000000,114000000,116000000,118000000,120000000,122000000,124000000,126000000,128000000,130000000],"labelExpr":"round(datum.value/1000000) % 10 == 0 ? (datum.value < 85000000 ? '8E+7' : datum.value < 95000000 ? '9E+7' : '1E+8') : ''","tickSize":{"condition":{"test":"round(datum.value/1000000) % 10 == 0","value":10},"value":5},"labelPadding":7,"titlePadding":6,"title":"Area (km²)"}}}}
]}
]
}
